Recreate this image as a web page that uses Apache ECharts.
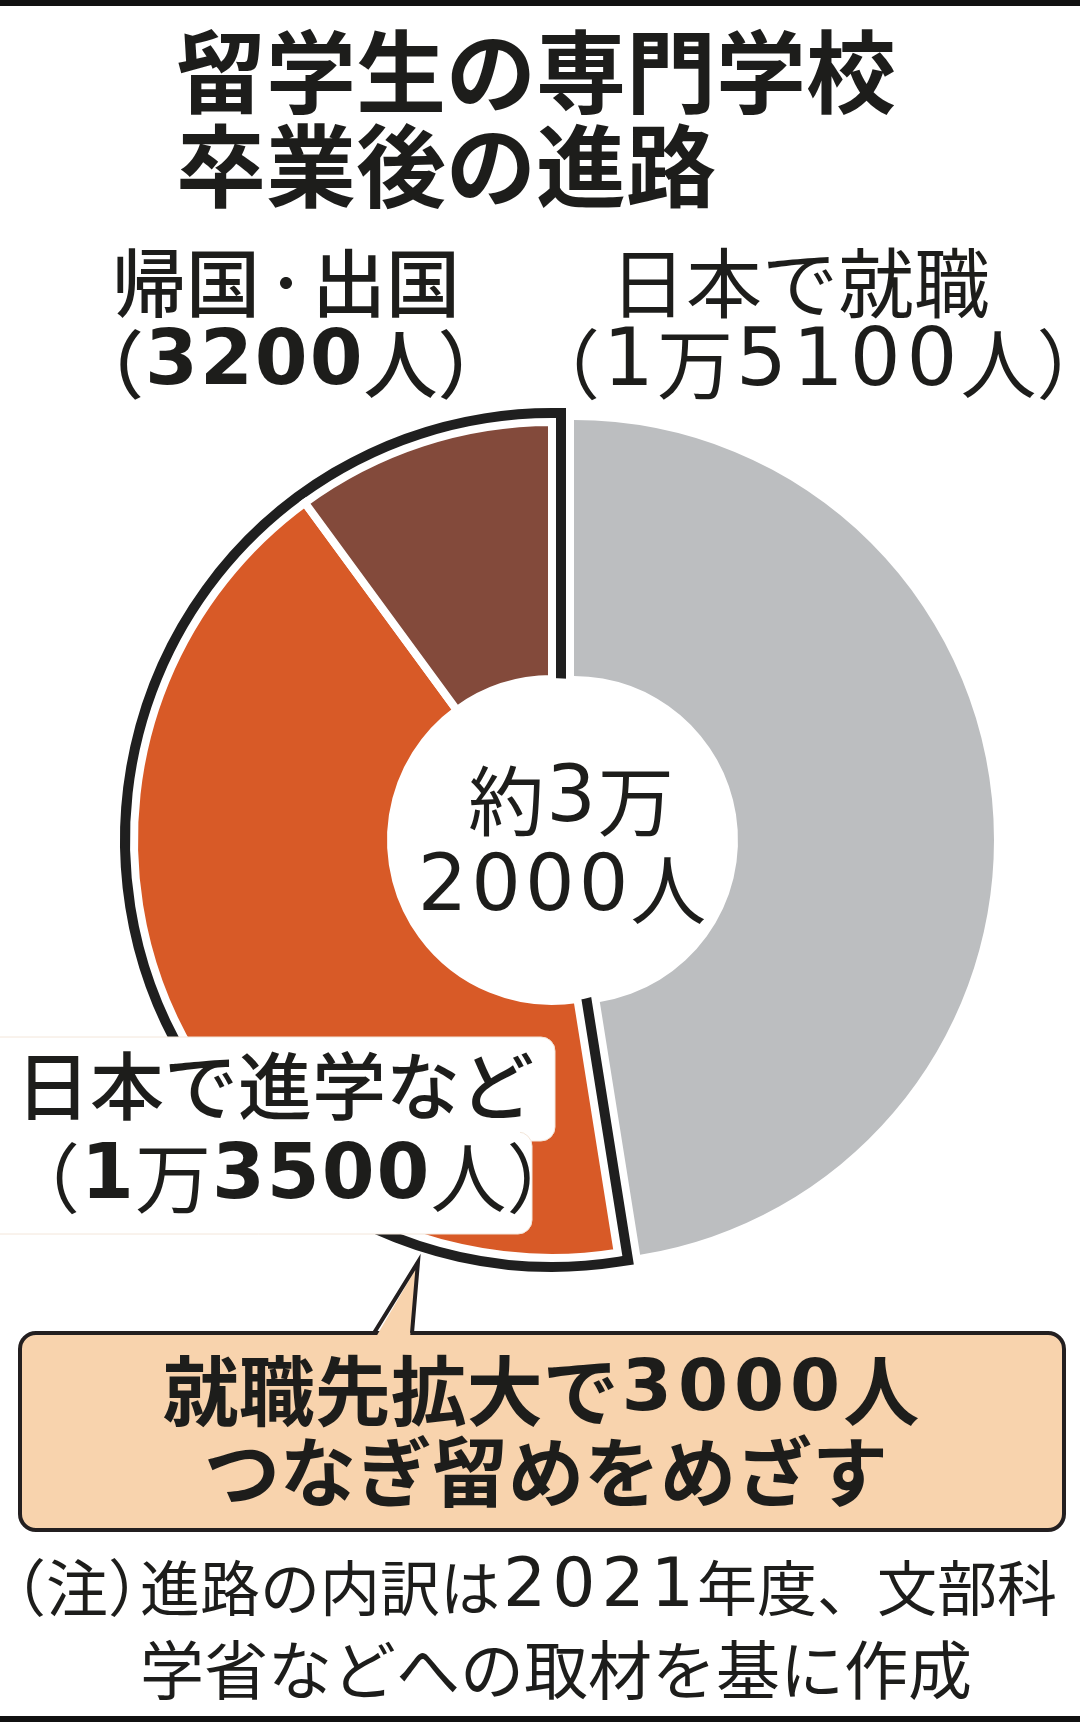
<!DOCTYPE html>
<html><head><meta charset="utf-8">
<script src="https://cdn.jsdelivr.net/npm/echarts/dist/echarts.min.js"></script>
<style>html,body{margin:0;padding:0;background:#fff}#chart{width:1080px;height:1722px}</style>
</head><body><div id="chart"></div>
<script>
// ---- data ----
const titleLines = ['留学生の専門学校', '卒業後の進路'];
const categories = ['日本で就職', '日本で進学など', '帰国・出国'];
const values = [15100, 13500, 3200];
const total = 32000;
const sliceColors = ['#BCBEC0', '#D85A27', '#834A3B'];
const calloutLines = ['就職先拡大で3000人', 'つなぎ留めをめざす'];
const noteHead = '（注）';
const noteLines = ['進路の内訳は2021年度、文部科', '学省などへの取材を基に作成'];

// ---- helpers ----
const INK = '#1d1d1b';
const JP = '"Noto Sans CJK JP", "Noto Sans CJK SC", sans-serif';
const NUM = '"DejaVu Sans", "Noto Sans CJK JP", sans-serif';
function fmt(v) {
  if (v >= 10000) return Math.floor(v / 10000) + '万' + (v % 10000);
  return String(v);
}
// every digit becomes its own token (so it can carry side padding), other runs one token
function rich(str, kStyle, dStyle) {
  let out = '';
  str.replace(/(\d)|(・)|([^\d・]+)/g, (m, d, dot) => {
    out += '{' + (d ? dStyle : (dot ? 'dot' : kStyle)) + '|' + m + '}';
    return m;
  });
  return out;
}
function richStyles(k, dReg, dBold, weight, padReg, padBold) {
  const pr = padReg || 0, pb = padBold || 0;
  return {
    k: {fontSize: k, fontFamily: JP, fontWeight: weight || 'normal', fill: INK, lineHeight: 96},
    kb: {fontSize: k, fontFamily: JP, fontWeight: 'bold', fill: INK, lineHeight: 96},
    dot: {fontSize: Math.round(k * 0.7), fontFamily: JP, fontWeight: weight || 'normal', fill: INK, lineHeight: 96},
    d: {fontSize: dReg, fontFamily: NUM, fontWeight: 'normal', fill: INK, lineHeight: 96, padding: [0, pr, 0, pr]},
    b: {fontSize: dBold, fontFamily: NUM, fontWeight: 'bold', fill: INK, lineHeight: 96, padding: [0, pb, 0, pb]}
  };
}
function txt(text, x, y, st, align, z) {
  return {type: 'text', z: z || 100, silent: true,
    style: Object.assign({text: text, x: x, y: y, fill: INK,
      textAlign: align || 'left', align: align || 'left',
      textVerticalAlign: 'middle', verticalAlign: 'middle'}, st)};
}

// pie geometry (gray slice vs. the exploded group of the other two)
const C_GRAY = [574, 840], C_GROUP = [552, 840];
const R_GRAY = 420, R_GROUP = 418, R_IN = 164;
const T = 'rgba(0,0,0,0)';
const groupSum = values[1] + values[2];

const common = {type: 'pie', startAngle: 90, clockwise: true, silent: true,
  label: {show: false}, labelLine: {show: false}, emphasis: {disabled: true},
  animation: false, avoidLabelOverlap: false};

const series = [
  Object.assign({}, common, {z: 1, center: C_GRAY, radius: [R_IN, R_GRAY],
    data: values.map((v, i) => ({value: v, name: categories[i],
      itemStyle: {color: i === 0 ? sliceColors[0] : T, borderWidth: 0}}))}),
  Object.assign({}, common, {z: 2, center: C_GROUP, radius: [0, R_GROUP],
    data: [{value: values[0], itemStyle: {color: T, borderWidth: 0}},
           {value: groupSum, itemStyle: {color: T, borderColor: '#1f1f1f', borderWidth: 28, borderJoin: 'miter'}}]}),
  Object.assign({}, common, {z: 3, center: C_GROUP, radius: [R_IN - 3, R_GROUP],
    data: values.map((v, i) => ({value: v, name: categories[i],
      itemStyle: i === 0 ? {color: T, borderWidth: 0} :
        {color: sliceColors[i], borderColor: '#ffffff', borderWidth: 8, borderJoin: 'miter'}}))}),
  Object.assign({}, common, {z: 4, center: C_GROUP, radius: [0, R_IN - 2],
    data: [{value: 1, itemStyle: {color: '#ffffff', borderWidth: 0}}]})
];

const labelRich = richStyles(74, 80, 76, 500, 0, 1);
const labelRichReg = richStyles(76, 80, 76, 'normal', 3, 1);
const bigRich = richStyles(76, 78, 76, 'normal', 2, 0);
const callRich = richStyles(76, 72, 72, 'bold', 0, 3);
const noteRich1 = richStyles(60, 68, 68, 'normal', 3, 0);
const noteRich2 = richStyles(64, 68, 68, 'normal', 3, 0);

const graphic = [
  {type: 'rect', z: 100, silent: true, shape: {x: 0, y: 0, width: 1080, height: 6}, style: {fill: '#111'}},
  {type: 'rect', z: 100, silent: true, shape: {x: 0, y: 1716, width: 1080, height: 6}, style: {fill: '#111'}},
  // title
  txt(titleLines[0], 176, 72, {font: 'bold 90px ' + JP}),
  txt(titleLines[1], 176, 166, {font: 'bold 90px ' + JP}),
  // top-left label
  txt(rich(categories[2], 'k', 'b'), 112, 283, {rich: labelRich}),
  txt(rich('（' + fmt(values[2]) + '人）', 'k', 'b'), 70, 364, {rich: labelRich}),
  // top-right label
  txt(rich(categories[0], 'k', 'd'), 610, 283, {rich: labelRichReg}),
  txt(rich('（' + fmt(values[0]) + '人）', 'k', 'd'), 524, 364, {rich: labelRichReg}),
  // center total
  txt(rich('約' + Math.floor(total / 10000) + '万', 'k', 'd'), 571, 801, {rich: bigRich}, 'center'),
  txt(rich((total % 10000) + '人', 'k', 'd'), 561, 890, {rich: bigRich}, 'center'),
  // lower-left label with white plates
  {type: 'rect', z: 98, silent: true, shape: {x: -20, y: 1037, width: 575, height: 104, r: 14}, style: {fill: '#fff', stroke: '#f3e6da', lineWidth: 1}},
  {type: 'rect', z: 98, silent: true, shape: {x: -20, y: 1132, width: 552, height: 102, r: 14}, style: {fill: '#fff', stroke: '#f3e6da', lineWidth: 1}},
  {type: 'rect', z: 99, silent: true, shape: {x: -20, y: 1120, width: 540, height: 30}, style: {fill: '#fff'}},
  txt(rich(categories[1], 'k', 'd'), 16, 1086, {rich: labelRich}),
  txt('{k|（}{b|' + Math.floor(values[1] / 10000) + '}{k|万}' + rich(String(values[1] % 10000), 'k', 'b') + '{k|人）}', 4, 1178, {rich: labelRichReg}),
  // callout
  {type: 'rect', z: 100, silent: true, shape: {x: 20, y: 1333, width: 1044, height: 197, r: 16}, style: {fill: '#F8D3AD', stroke: '#231f20', lineWidth: 4}},
  {type: 'polygon', z: 101, silent: true, shape: {points: [[376, 1337], [418, 1265], [410, 1337]]}, style: {fill: '#F8D3AD'}},
  {type: 'polyline', z: 102, silent: true, shape: {points: [[374, 1333], [418, 1262], [412, 1333]]}, style: {fill: null, stroke: '#231f20', lineWidth: 4, lineJoin: 'miter'}},
  txt(rich(calloutLines[0], 'kb', 'b'), 541, 1391, {rich: callRich}, 'center', 103),
  txt(rich(calloutLines[1], 'kb', 'b'), 546, 1472, {rich: callRich}, 'center', 103),
  // note
  txt(noteHead, -16, 1588, {font: '62px ' + JP}),
  txt(rich(noteLines[0], 'k', 'd'), 140, 1588, {rich: noteRich1}),
  txt(rich(noteLines[1], 'k', 'd'), 140, 1670, {rich: noteRich2})
];

const chart = echarts.init(document.getElementById('chart'), null, {renderer: 'canvas', width: 1080, height: 1722});
chart.setOption({backgroundColor: '#ffffff', animation: false, series: series, graphic: graphic});
</script></body></html>
